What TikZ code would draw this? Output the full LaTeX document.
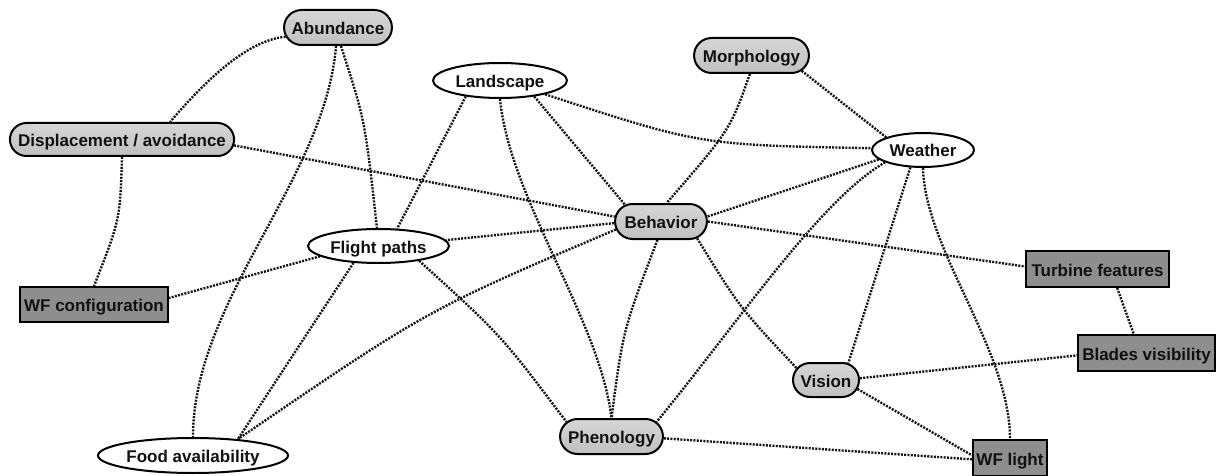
\documentclass[tikz,border=0pt]{standalone}
\usepackage{fontspec}
\setmainfont{Liberation Sans}
\usetikzlibrary{shapes.geometric,shapes.misc,backgrounds}
\definecolor{boxtop}{HTML}{D6D6D6}
\definecolor{boxbot}{HTML}{C0C0C0}
\definecolor{rectgray}{HTML}{8E8E8E}
\definecolor{linkcol}{HTML}{151515}
\definecolor{txt}{HTML}{111111}
\newcommand{\fixw}[2]{\makebox[#1][c]{#2}}
\tikzset{
  base/.style={draw=black, line width=2pt, inner sep=0pt, text=txt,
    font=\fontsize{17}{17}\selectfont\bfseries, text height=15pt, text depth=1pt},
  roundbox/.style={base, rounded rectangle, top color=boxtop, bottom color=boxbot},
  ovalbox/.style={base, ellipse, inner xsep=-40pt, fill=white},
  rectbox/.style={base, rectangle, fill=rectgray},
  link/.style={draw=linkcol, line width=2.4pt, dash pattern=on 2pt off 1.3pt},
}
\begin{document}
\begin{tikzpicture}[x=1pt,y=-1pt]
\useasboundingbox (0,0) rectangle (1221,476);
\node[roundbox, minimum height=35pt] (abund) at (338,27.5) {\fixw{104pt}{Abundance}};
\node[roundbox, minimum height=33pt] (displ) at (122,139.5) {\fixw{220pt}{Displacement / avoidance}};
\node[ovalbox, minimum width=134pt, minimum height=35pt] (land) at (500,80.5) {Landscape};
\node[roundbox, minimum height=35pt] (morph) at (751.5,55.5) {\fixw{111pt}{Morphology}};
\node[ovalbox, minimum width=102pt, minimum height=34pt] (weather) at (923,150) {Weather};
\node[roundbox, minimum height=35pt] (behav) at (661,221.5) {\fixw{88pt}{Behavior}};
\node[ovalbox, minimum width=141pt, minimum height=34pt] (flight) at (378.5,246) {Flight paths};
\node[rectbox, minimum width=143pt, minimum height=36pt] (turb) at (1097.5,269) {Turbine features};
\node[rectbox, minimum width=148pt, minimum height=35pt] (wfconf) at (94,304.5) {WF configuration};
\node[rectbox, minimum width=137pt, minimum height=36pt] (blades) at (1146.5,353) {Blades visibility};
\node[roundbox, minimum height=34pt] (vision) at (826,380) {\fixw{62pt}{Vision}};
\node[roundbox, minimum height=35pt] (phen) at (611.5,436.5) {\fixw{99pt}{Phenology}};
\node[ovalbox, minimum width=190pt, minimum height=35pt] (food) at (193,455.5) {Food availability};
\node[rectbox, minimum width=74pt, minimum height=36pt] (wflight) at (1010,458) {WF light};
\begin{scope}[on background layer]
\draw[link] (abund.190) .. controls (250,40) and (210,75) .. (displ.20);
\draw[link] (abund.264) .. controls (325,180) and (193,300) .. (food.90);
\draw[link] (abund.279) .. controls (365,120) .. (flight.95);
\draw[link] (displ.270) .. controls (120,220) .. (wfconf.90);
\draw[link] (displ.357) -- (behav.174);
\draw[link] (land.205) -- (flight.43);
\draw[link] (land.270) .. controls (510,200) and (600,320) .. (phen.90);
\draw[link] (land.335) -- (behav.155);
\draw[link] (land.343) .. controls (700,145) .. (weather.178);
\draw[link] (morph.265) .. controls (730,130) .. (behav.73);
\draw[link] (morph.343) -- (weather.161);
\draw[link] (weather.192) -- (behav.6);
\draw[link] (weather.198) .. controls (820,200) and (740,320) .. (phen.18);
\draw[link] (weather.234) -- (vision.37);
\draw[link] (weather.270) .. controls (925,250) and (1010,350) .. (wflight.90);
\draw[link] (behav.182) -- (flight.5);
\draw[link] (behav.190) .. controls (427,310) .. (food.20);
\draw[link] (behav.259) .. controls (623,330) .. (phen.90);
\draw[link] (behav.335) .. controls (740,308) .. (vision.158);
\draw[link] (behav.east) -- (turb.178);
\draw[link] (flight.190) -- (wfconf.5);
\draw[link] (flight.214) -- (food.20);
\draw[link] (flight.340) .. controls (501,335) .. (phen.162);
\draw[link] (turb.316) -- (blades.124);
\draw[link] (vision.3) -- (blades.182);
\draw[link] (vision.344) -- (wflight.176);
\draw[link] (phen.358) -- (wflight.182);
\end{scope}
\end{tikzpicture}
\end{document}
